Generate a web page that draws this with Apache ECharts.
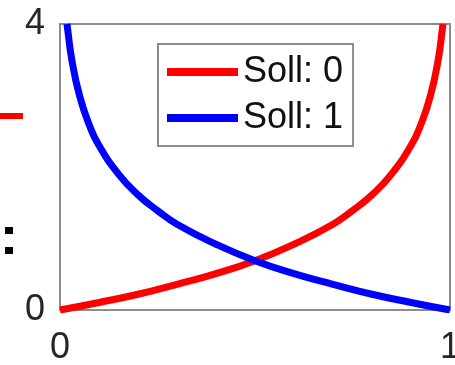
<!DOCTYPE html>
<html><head><meta charset="utf-8">
<script src="https://cdn.jsdelivr.net/npm/echarts@6/dist/echarts.min.js"></script>
<style>html,body{margin:0;padding:0;background:#fff}#c{width:455px;height:365px}</style>
</head><body><div id="c"></div>
<script>
const seriesNames = ['Soll: 0', 'Soll: 1'];
const xTicks = [0, 1];
const yTicks = [0, 4];
const redX = [0, 0.1, 0.2, 0.3, 0.4, 0.5, 0.6, 0.7, 0.75, 0.8, 0.85, 0.9, 0.925, 0.95, 0.97, 0.98, 0.982];
const redY = [0, 0.105, 0.22, 0.36, 0.51, 0.69, 0.92, 1.2, 1.39, 1.61, 1.9, 2.3, 2.59, 3.0, 3.51, 3.91, 4.0];
const blueX = [0.018, 0.02, 0.03, 0.05, 0.075, 0.1, 0.15, 0.2, 0.25, 0.3, 0.4, 0.5, 0.6, 0.7, 0.8, 0.9, 1.0];
const blueY = [4.0, 3.91, 3.51, 3.0, 2.59, 2.3, 1.9, 1.61, 1.39, 1.2, 0.92, 0.69, 0.51, 0.36, 0.22, 0.105, 0];

const font = '"Liberation Sans", Arial, sans-serif';
const chart = echarts.init(document.getElementById('c'), null, {renderer: 'canvas'});
chart.setOption({
  animation: false,
  grid: {left: 60, right: 5, top: 24, bottom: 55, show: true, borderColor: '#8c8c8c', borderWidth: 2,
    backgroundColor: 'transparent', containLabel: false, outerBoundsMode: 'none'},
  xAxis: {type: 'value', min: xTicks[0], max: xTicks[1], interval: 1,
    axisLine: {show: false}, axisTick: {show: false}, splitLine: {show: false},
    axisLabel: {fontSize: 36, color: '#262626', fontFamily: font, margin: 20}},
  yAxis: {type: 'value', min: yTicks[0], max: yTicks[1], interval: 4,
    axisLine: {show: false}, axisTick: {show: false}, splitLine: {show: false},
    axisLabel: {fontSize: 36, color: '#262626', fontFamily: font, margin: 15, padding: [8, 0, 0, 0]}},
  legend: {left: 158, top: 44, orient: 'vertical', padding: [10, 10, 10, 9],
    borderColor: '#8c8c8c', borderWidth: 2, backgroundColor: '#fff',
    itemWidth: 71, itemHeight: 8, itemGap: 10,
    textStyle: {fontSize: 36, lineHeight: 36, color: '#111', fontFamily: font},
    data: [{name: seriesNames[0], icon: 'rect'}, {name: seriesNames[1], icon: 'rect'}]},
  series: [
    {name: seriesNames[0], type: 'line', smooth: true, showSymbol: false, symbol: 'none',
      color: '#ff0000', lineStyle: {width: 7, color: '#ff0000'},
      data: redX.map((x, i) => [x, redY[i]])},
    {name: seriesNames[1], type: 'line', smooth: true, showSymbol: false, symbol: 'none',
      color: '#0000ff', lineStyle: {width: 7, color: '#0000ff'},
      data: blueX.map((x, i) => [x, blueY[i]])}
  ],
  graphic: [
    {type: 'rect', shape: {x: 0, y: 113, width: 23, height: 6}, style: {fill: '#ff0000'}},
    {type: 'rect', shape: {x: 5, y: 227, width: 8, height: 7}, style: {fill: '#000'}},
    {type: 'rect', shape: {x: 5, y: 247, width: 8, height: 7}, style: {fill: '#000'}}
  ]
});
</script></body></html>
